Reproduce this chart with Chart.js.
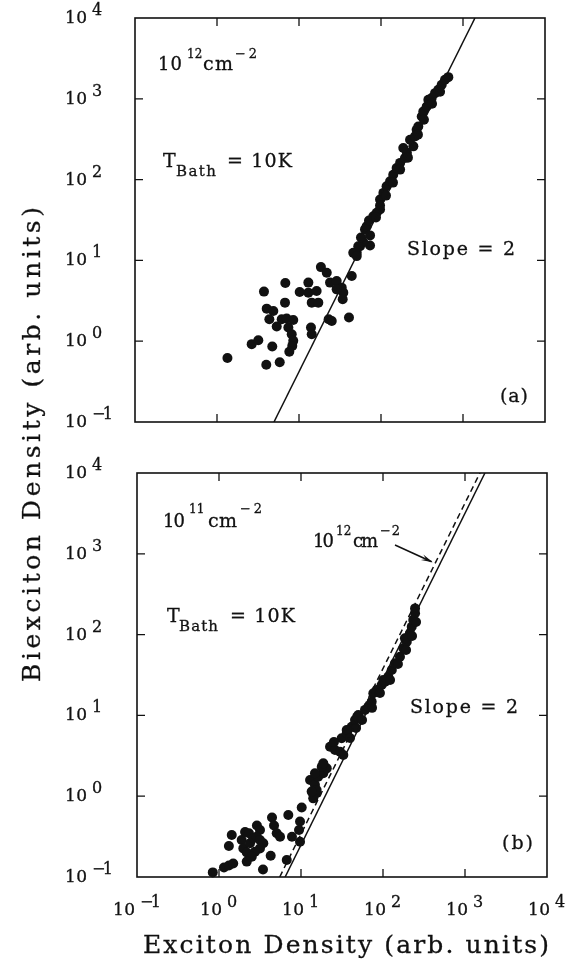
<!DOCTYPE html>
<html><head><meta charset="utf-8">
<script src="https://cdn.jsdelivr.net/npm/chart.js@4.4.1/dist/chart.umd.min.js"></script>
<style>
html,body{margin:0;padding:0;background:#fff;}
#wrap{position:relative;width:572px;height:959px;overflow:hidden;background:#fff;}
canvas{position:absolute;left:0;top:0;}
</style></head><body>
<div id="wrap"><canvas id="cA" width="572" height="959"></canvas><canvas id="cB" width="572" height="959"></canvas></div>
<script>
// ---------- data ----------
const tickExponents = [-1, 0, 1, 2, 3, 4];
const axisMin = 0.1, axisMax = 10000;

// panel (a): 10^12 cm^-2
const excitonA = [1.34,2.65,3.19,4.72,3.99,5.82,3.74,6.81,6.75,4.04,4.86,4.35,5.35,6.15,7.08,8.51,7.41,8.15,8.51,8.28,7.62,
  10.2,13.0,13.0,16.4,14.3,17.2,14.0,14.3,18.5,21.8,23.9,28.8,33.2,34.7,34.1,28.8,23.0,25.1,40.7,44.0,
  50.6,55.5,73.5,60.8,45.9,52.8,50.6,57.0,63.8,66.9,71.4,80.6,88.6,97.3,97.3,107,117,129,141,155,171,196,207,187,248,226,
  260,272,285,314,328,361,378,415,456,500,550,603,662,
  73.5,86.9,97.3,115,140,171,213,282,334,419,525];
const biexcitonA = [0.62,0.92,1.03,0.86,0.51,0.55,4.11,5.25,3.0,2.53,2.37,1.87,1.52,1.87,1.91,1.83,1.48,1.22,1.01,0.875,0.74,
  4.06,5.31,3.99,4.18,3.0,3.0,1.48,1.22,8.26,7.05,5.31,5.56,4.60,3.99,3.30,4.38,1.87,1.78,1.96,6.40,
  12.4,15.0,15.3,16.8,12.4,15.0,11.3,19.2,24.2,26.5,31.2,35.2,38.8,42.6,56.6,68.5,82.7,95.3,115,139,161,185,215,246,258,312,
  343,414,455,604,697,804,972,1020,1175,1291,1489,1717,1853,
  20.4,34.0,47.8,63.4,91.8,133,187,360,550,867,1220];
const fitAX = [4.95, 1400], fitAY = [0.1, 10000];

// panel (b): 10^11 cm^-2
const excitonB = [0.84,1.15,1.32,1.49,1.43,1.32,2.08,2.32,2.90,3.16,1.89,1.98,2.18,2.39,2.62,2.88,3.16,3.47,3.16,2.75,2.51,2.18,
  4.27,3.44,4.43,4.69,5.06,5.55,7.0,10.2,9.73,9.46,9.73,7.76,6.70,15.5,14.1,
  12.9,14.8,15.5,16.2,18.7,20.6,17.9,14.8,22.6,26.0,29.9,32.8,31.3,36.1,41.5,45.6,50.0,60.3,66.2,72.8,83.8,96.3,106,116,128,
  140,161,177,195,213,224,234,246,246,185,101,76.2,48.4,36.1,18.7,13.5,
  39.6,46.9,55.5,73.5,91.8,122,152,191,226,253,25.2];
const biexcitonB = [0.114,0.131,0.139,0.147,0.331,0.242,0.361,0.348,0.434,0.382,0.287,0.226,0.201,0.261,0.301,0.315,0.287,0.261,0.226,0.206,0.178,0.155,
  0.183,0.124,0.545,0.434,0.348,0.315,0.585,0.724,0.486,0.382,0.273,0.315,0.162,1.09,0.94,
  1.59,1.38,1.19,1.74,1.92,2.21,2.32,1.92,4.10,3.73,3.56,3.24,5.21,6.0,7.24,8.77,10.1,11.7,12.8,14.8,20.6,23.8,26.1,30.1,36.5,
  44.1,53.3,67.7,81.7,104,125,152,184,211,90,27.4,18.8,9.64,6.6,2.55,1.14,
  5.25,6.98,8.77,12.4,18.9,27.4,43.3,64.4,96.1,143,4.69];
const fitBX = [6.4, 1750], fitBY = [0.1, 10000];
const fitB12X = [5.5, 1520], fitB12Y = [0.1, 10000];

// ---------- helpers ----------
const FONT = '"DejaVu Serif", "Liberation Serif", serif';
function txt(ctx, s, x, y, size, width) {
  ctx.save();
  ctx.font = size + 'px ' + FONT;
  ctx.letterSpacing = '0px';
  ctx.textAlign = 'left';
  ctx.textBaseline = 'alphabetic';
  ctx.fillStyle = '#111';
  ctx.strokeStyle = '#111';
  ctx.lineWidth = 0.3;
  if (width && s.length > 1) {
    const w = ctx.measureText(s).width;
    ctx.letterSpacing = ((width - w) / (s.length - 1)) + 'px';
  }
  ctx.fillText(s, x, y);
  ctx.strokeText(s, x, y);
  ctx.restore();
}
function supStr(e) { return e < 0 ? '\u2212' + Math.abs(e) : String(e); }
function supWidth(e) { return e < 0 ? 21 : 11; }
function powLabel(ctx, e, x, baseline) {
  txt(ctx, '10', x, baseline, 17, 22);
  txt(ctx, supStr(e), x + 27, baseline - 8, 16, e < 0 ? 21 : 0);
}
function pts(xs, ys) { return xs.map((v, i) => ({x: v, y: ys[i]})); }

const framePlugin = {
  id: 'frame',
  beforeDatasetsDraw(chart) {
    const {ctx, chartArea: a, scales: {x, y}} = chart;
    ctx.save();
    ctx.strokeStyle = '#111';
    ctx.lineWidth = 1.6;
    ctx.strokeRect(a.left, a.top, a.right - a.left, a.bottom - a.top);
    ctx.lineWidth = 1.3;
    ctx.beginPath();
    tickExponents.slice(1, -1).forEach(e => {
      const v = Math.pow(10, e);
      const px = x.getPixelForValue(v), py = y.getPixelForValue(v);
      ctx.moveTo(px, a.bottom); ctx.lineTo(px, a.bottom - 8);
      ctx.moveTo(px, a.top); ctx.lineTo(px, a.top + 8);
      ctx.moveTo(a.left, py); ctx.lineTo(a.left + 8, py);
      ctx.moveTo(a.right, py); ctx.lineTo(a.right - 8, py);
    });
    ctx.stroke();
    ctx.restore();
  },
  afterDraw(chart, args, opts) {
    const {ctx, scales: {x, y}} = chart;
    tickExponents.forEach(e => {
      const py = y.getPixelForValue(Math.pow(10, e));
      powLabel(ctx, e, 65, py + 5);
    });
    if (opts.xLabels) {
      tickExponents.forEach(e => {
        const px = x.getPixelForValue(Math.pow(10, e));
        const total = 22 + 5 + supWidth(e);
        powLabel(ctx, e, px - total / 2, 915);
      });
    }
    (opts.texts || []).forEach(t => txt(ctx, t[0], t[1], t[2], t[3], t[4]));
    if (opts.arrow) {
      const [x1, y1, x2, y2] = opts.arrow;
      ctx.save();
      ctx.strokeStyle = '#111'; ctx.fillStyle = '#111'; ctx.lineWidth = 1.5;
      ctx.beginPath(); ctx.moveTo(x1, y1); ctx.lineTo(x2, y2); ctx.stroke();
      const ang = Math.atan2(y2 - y1, x2 - x1), L = 11, W = 0.28;
      ctx.beginPath();
      ctx.moveTo(x2 + 1, y2 + 0.5);
      ctx.lineTo(x2 - L * Math.cos(ang - W), y2 - L * Math.sin(ang - W));
      ctx.lineTo(x2 - 0.55 * L * Math.cos(ang), y2 - 0.55 * L * Math.sin(ang));
      ctx.lineTo(x2 - L * Math.cos(ang + W), y2 - L * Math.sin(ang + W));
      ctx.closePath(); ctx.fill();
      ctx.restore();
    }
    if (opts.axisTitles) {
      ctx.save();
      txt(ctx, 'Exciton Density (arb. units)', 143, 953, 25, 406);
      ctx.translate(40, 682);
      ctx.rotate(-Math.PI / 2);
      txt(ctx, 'Biexciton Density (arb. units)', 0, 0, 25, 475);
      ctx.restore();
    }
  }
};

function scatterSet(data) {
  return {type: 'scatter', data, pointRadius: 5, pointHoverRadius: 5, pointBackgroundColor: '#111',
    pointBorderWidth: 0, showLine: false, clip: false, order: 2};
}
function lineSet(data, dash) {
  return {type: 'scatter', data, showLine: true, pointRadius: 0, borderColor: '#111', borderWidth: 1.5,
    borderDash: dash || [], fill: false, order: 1};
}
function makeChart(id, datasets, padding, pluginOpts) {
  return new Chart(document.getElementById(id), {
    type: 'scatter',
    data: {datasets},
    options: {
      responsive: false, animation: false, devicePixelRatio: 1,
      layout: {padding},
      plugins: {legend: {display: false}, tooltip: {enabled: false}, frame: pluginOpts},
      scales: {
        x: {type: 'logarithmic', min: axisMin, max: axisMax, display: false},
        y: {type: 'logarithmic', min: axisMin, max: axisMax, display: false}
      }
    },
    plugins: [framePlugin]
  });
}

makeChart('cA', [
  lineSet(pts(fitAX, fitAY)),
  scatterSet(pts(excitonA, biexcitonA))
], {left: 135, right: 27, top: 18, bottom: 537}, {
  texts: [
    ['10', 158, 70, 18, 24], ['12', 187, 58, 12, 0], ['cm', 203, 70, 19, 30], ['\u22122', 235, 58, 13, 22],
    ['T', 163, 167, 19, 0], ['Bath', 176, 176, 15, 40], ['= 10K', 227, 167, 19, 65],
    ['Slope = 2', 407, 255, 19, 108], ['(a)', 500, 402, 19, 28]
  ]
});

makeChart('cB', [
  lineSet(pts(fitBX, fitBY)),
  lineSet(pts(fitB12X, fitB12Y), [6, 4]),
  scatterSet(pts(excitonB, biexcitonB))
], {left: 137, right: 25, top: 473, bottom: 82}, {
  xLabels: true, axisTitles: true, arrow: [395, 545, 431.7, 561.7],
  texts: [
    ['10', 163, 527, 18, 22], ['11', 189, 513, 12, 0], ['cm', 208, 527, 19, 29], ['\u22122', 240, 513, 13, 22],
    ['T', 167, 622, 19, 0], ['Bath', 179, 631, 15, 39], ['= 10K', 230, 622, 19, 65],
    ['10', 313, 547, 18, 21], ['12', 336, 535, 12, 0], ['cm', 353, 547, 18, 25], ['\u22122', 380, 535, 13, 20],
    ['Slope = 2', 410, 713, 19, 108], ['(b)', 502, 849, 19, 31]
  ]
});
</script>
</body></html>
